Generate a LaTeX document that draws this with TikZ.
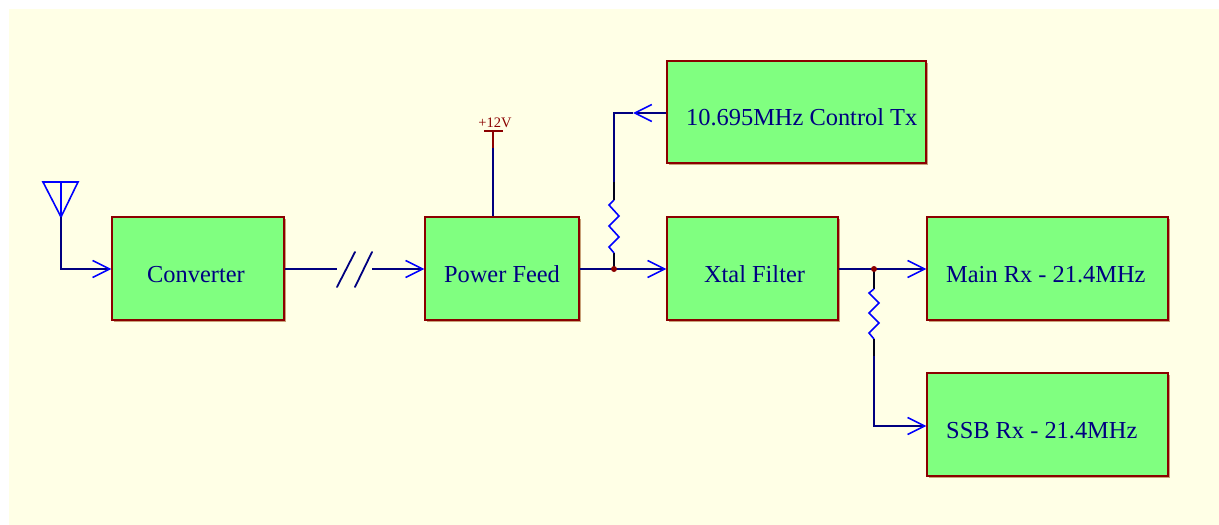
\documentclass[tikz,border=0pt]{standalone}
\usepackage{fontspec}
\setmainfont{Liberation Serif}
\usetikzlibrary{arrows.meta,shadows}
\definecolor{bg}{HTML}{FFFFE6}
\definecolor{boxfill}{HTML}{80FF80}
\definecolor{boxline}{HTML}{8B0000}
\definecolor{shade}{HTML}{C8A078}
\definecolor{wire}{HTML}{000080}
\definecolor{arr}{HTML}{0000FF}
\definecolor{txt}{HTML}{000080}
\definecolor{pwr}{HTML}{8B0000}
\tikzset{
  blk/.style={rectangle, draw=boxline, fill=boxfill, line width=1.3pt, inner sep=0pt,
    drop shadow={shadow xshift=1.5pt, shadow yshift=-1.5pt, fill=shade, opacity=1}},
  lbl/.style={anchor=base west, inner sep=0pt, text=txt, font=\fontsize{24.4}{28}\selectfont},
  lblc/.style={anchor=base, inner sep=0pt, text=txt, font=\fontsize{24.4}{28}\selectfont},
  wire/.style={draw=wire, line width=1.8pt},
  res/.style={draw=arr, line width=1.6pt, line join=miter},
  lead/.style={draw=black!80!wire, line width=1.8pt},
  sig/.style={wire, -{Straight Barb[length=17pt, width=17pt, line width=1.6pt, color=arr]}},
  junc/.style={circle, fill=pwr, inner sep=0pt, minimum size=6pt}
}
\begin{document}
\begin{tikzpicture}[x=1pt,y=-1pt]
\useasboundingbox (0,0) rectangle (1219,525);
\fill[white] (0,0) rectangle (1219,525);
\fill[bg] (9,9) rectangle (1219,525);

% blocks
\node[blk, minimum width=172pt, minimum height=103pt] (conv) at (198,268.5) {};
\node[blk, minimum width=154pt, minimum height=103pt] (pf) at (502,268.5) {};
\node[blk, minimum width=171pt, minimum height=103pt] (xf) at (752.5,268.5) {};
\node[blk, minimum width=259pt, minimum height=102pt] (ctx) at (796.5,112) {};
\node[blk, minimum width=241pt, minimum height=103pt] (main) at (1047.5,268.5) {};
\node[blk, minimum width=241pt, minimum height=103pt] (ssb) at (1047.5,424.5) {};

% labels
\node[lblc] (tconv) at (196,282) {Converter};
\node[lblc] (tpf) at (502,282) {Power Feed};
\node[lblc] (txf) at (754.5,282) {Xtal Filter};
\node[lbl] (tctx) at (686,125) {10.695MHz Control Tx};
\node[lbl] (tmain) at (946,282) {Main Rx - 21.4MHz};
\node[lbl] (tssb) at (946,438) {SSB Rx - 21.4MHz};

% antenna
\coordinate (ant) at (61,217);
\draw[arr, line width=1.6pt, line join=miter] (43,182) -- (78,182) -- (ant) -- cycle;
\draw[arr, line width=1.6pt] (61,182) -- (ant);
\draw[sig] (ant) |- (conv.west |- 0,269);

% cable with break
\coordinate (b1) at (337,269);
\coordinate (b2) at (372,269);
\draw[wire] (conv.east |- b1) -- (b1);
\draw[wire, line cap=round] (337,287) -- (355,252);
\draw[wire, line cap=round] (355,287) -- (372,252);
\draw[sig] (b2) -- (pf.west |- b2);

% +12V supply
\coordinate (v12) at (493,148);
\node[anchor=base, inner sep=0pt, text=pwr, font=\fontsize{14.5}{16}\selectfont] (t12) at (495,127) {+12V};
\draw[pwr, line width=1.8pt] (484,131) -- (503,131);
\draw[pwr, line width=1.8pt] (493,131) -- (v12);
\draw[wire] (v12) -- (v12 |- pf.north);

% junction 1 and control tx
\coordinate (j1) at (614,269);
\coordinate (ctip) at (633,113);
\draw[wire] (pf.east |- j1) -- (j1);
\draw[sig] (j1) -- (xf.west |- j1);
\draw[lead] (j1) -- (614,253);
\draw[res] (614,253) -- (609,247) -- (619,237) -- (609,226) -- (619,216) -- (609,205) -- (614,200);
\draw[lead] (614,200) -- (614,182);
\draw[wire] (614,182) |- (ctip);
\draw[sig] (ctx.west |- ctip) -- (ctip);
\node[junc] (dj1) at (j1) {};

% junction 2 and receivers
\coordinate (j2) at (874,269);
\draw[wire] (xf.east |- j2) -- (j2);
\draw[sig] (j2) -- (main.west |- j2);
\draw[lead] (j2) -- (874,289);
\draw[res] (874,289) -- (869,293) -- (879,303) -- (869,313) -- (879,323) -- (869,333) -- (874,339);
\draw[lead] (874,339) -- (874,356);
\draw[sig] (874,356) |- (ssb.west |- 0,426);
\node[junc] (dj2) at (j2) {};
\end{tikzpicture}
\end{document}
